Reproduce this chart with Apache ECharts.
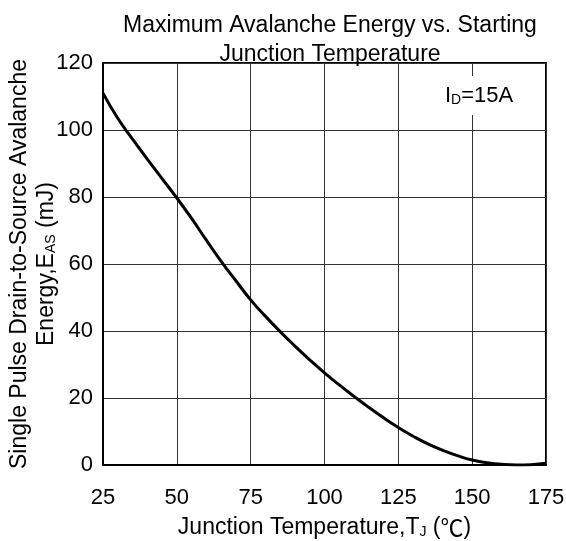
<!DOCTYPE html>
<html>
<head>
<meta charset="utf-8">
<script src="https://cdn.jsdelivr.net/npm/echarts@6/dist/echarts.min.js"></script>
<style>
  html, body { margin: 0; padding: 0; background: #fff; }
  #chart { width: 566px; height: 541px; }
</style>
</head>
<body>
<div id="chart"></div>
<script>
// junction temperature (°C)
const temps = [25, 30, 35, 40, 45, 50, 55, 60, 65, 70, 75, 80, 85, 90, 95, 100,
  105, 110, 115, 120, 125, 130, 135, 140, 145, 150, 155, 160, 165, 170, 175]
// single pulse avalanche energy (mJ)
const energy = [111, 103.5, 97.3, 91.3, 85.5, 79.7, 73.6, 67.1, 60.8, 55, 49.3, 44.4, 39.8, 35.5, 31.4, 27.5,
  23.9, 20.5, 17.2, 14.1, 11.2, 8.6, 6.3, 4.4, 2.8, 1.5, 0.7, 0.2, 0, 0.1, 0.5]
const xTicks = { min: 25, max: 175, step: 25 }
const yTicks = { min: 0, max: 120, step: 20 }

const font = 'Liberation Sans, Arial, sans-serif'
const cjk = 'Noto Sans CJK SC'
const chart = echarts.init(document.getElementById('chart'))

const subStyle = { fontFamily: font, fontSize: 14, color: '#000', padding: [9, 0, 0, 0] }

const option = {
  backgroundColor: '#fff',
  animation: false,
  title: {
    text: 'Maximum Avalanche Energy vs. Starting\nJunction Temperature',
    left: 325,
    top: 6,
    textAlign: 'center',
    textStyle: {
      fontFamily: font,
      fontSize: 23,
      fontWeight: 'normal',
      color: '#000',
      lineHeight: 29
    }
  },
  grid: {
    left: 103,
    right: 20,
    top: 63,
    bottom: 76,
    outerBoundsMode: 'none',
    containLabel: false,
    show: true,
    borderColor: '#000',
    borderWidth: 2,
    backgroundColor: 'transparent'
  },
  xAxis: {
    type: 'value',
    min: xTicks.min,
    max: xTicks.max,
    interval: xTicks.step,
    name: 'Junction Temperature,T{sub|J} ({c|℃})',
    nameLocation: 'middle',
    nameGap: 51,
    nameMoveOverlap: false,
    nameTextStyle: {
      fontFamily: font,
      fontSize: 23,
      color: '#000',
      rich: {
        sub: subStyle,
        c: { fontFamily: cjk, fontSize: 23, color: '#000' }
      }
    },
    axisLine: { show: true, lineStyle: { color: '#000', width: 2 } },
    axisTick: { show: false },
    axisLabel: { fontFamily: font, fontSize: 22, color: '#000', margin: 22 },
    splitLine: { show: true, lineStyle: { color: '#333', width: 1 } }
  },
  yAxis: {
    type: 'value',
    min: yTicks.min,
    max: yTicks.max,
    interval: yTicks.step,
    name: 'Single Pulse Drain-to-Source Avalanche\nEnergy,E{sub|AS} (mJ)',
    nameLocation: 'middle',
    nameGap: 43,
    nameMoveOverlap: false,
    nameTextStyle: {
      fontFamily: font,
      fontSize: 23,
      color: '#000',
      lineHeight: 27,
      rich: { sub: subStyle }
    },
    axisLine: { show: true, lineStyle: { color: '#000', width: 2 } },
    axisTick: { show: false },
    axisLabel: { fontFamily: font, fontSize: 22, color: '#000', margin: 10 },
    splitLine: { show: true, lineStyle: { color: '#333', width: 1 } }
  },
  graphic: [{
    type: 'text',
    left: 442,
    top: 76,
    z: 100,
    style: {
      text: 'I{sub|D}=15A',
      fontFamily: font,
      fontSize: 22,
      fill: '#000',
      backgroundColor: '#fff',
      padding: [8, 3, 8, 3],
      rich: {
        sub: { fontFamily: font, fontSize: 14, fill: '#000', padding: [9, 0, 0, 0] }
      }
    }
  }],
  series: [{
    type: 'line',
    data: temps.map((t, i) => [t, energy[i]]),
    smooth: true,
    symbol: 'none',
    lineStyle: { color: '#000', width: 3 }
  }]
}

chart.setOption(option)
</script>
</body>
</html>
